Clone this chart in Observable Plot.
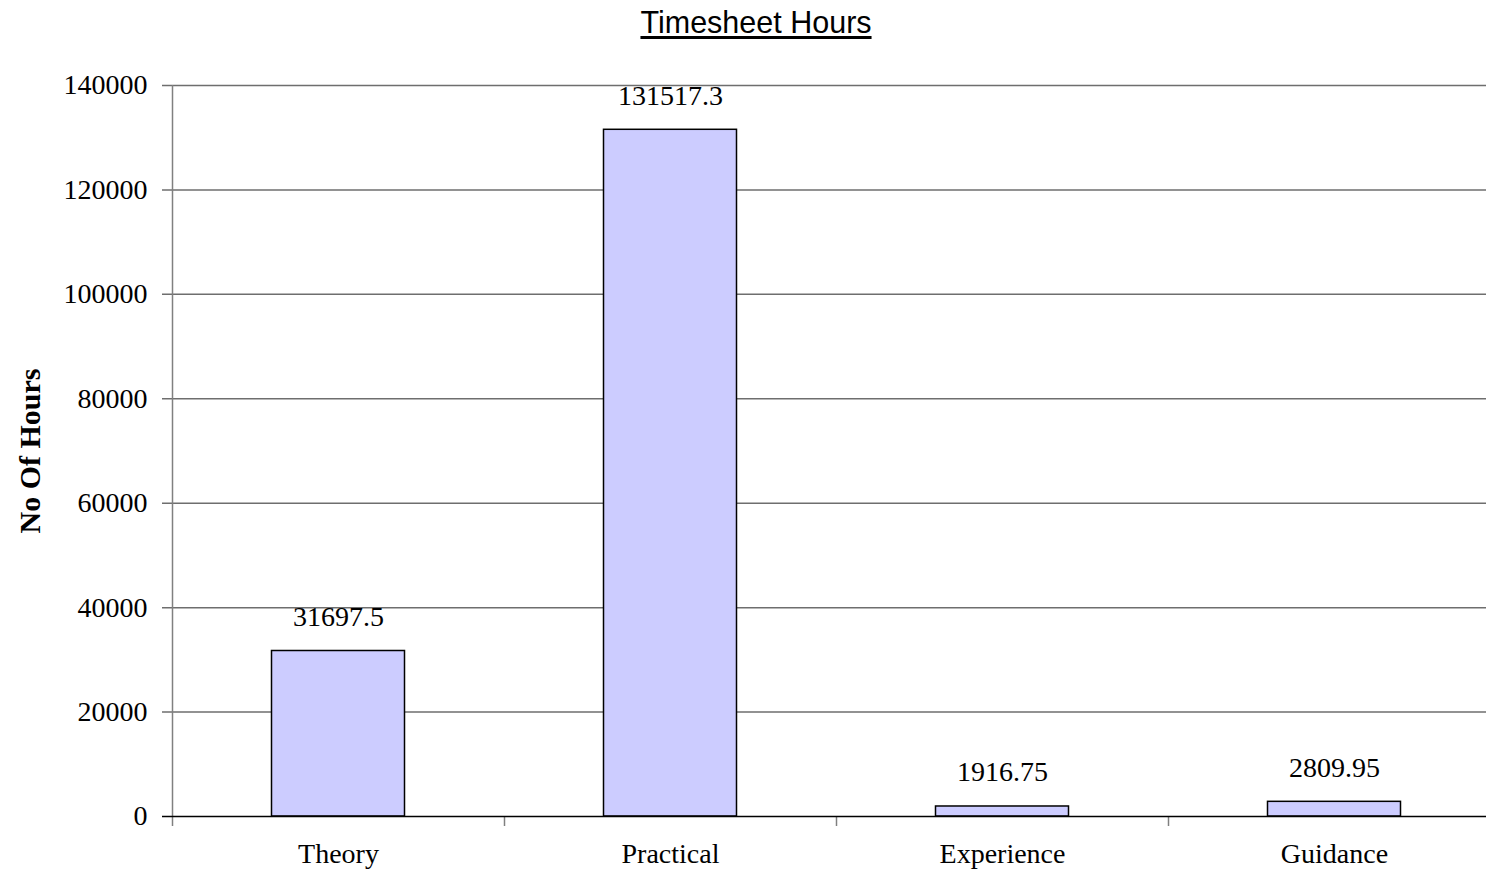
<!DOCTYPE html>
<html>
<head>
<meta charset="utf-8">
<script src="https://cdn.jsdelivr.net/npm/d3@7"></script>
<script src="https://cdn.jsdelivr.net/npm/@observablehq/plot@0.6"></script>
<style>
  html, body { margin: 0; padding: 0; background: #fff; overflow: hidden; }
  #title { height: 45px; width: 1486px; text-align: center; font-family: "Liberation Sans", Arial, sans-serif; font-size: 30.5px; line-height: 45px; color: #000; padding-left: 26px; box-sizing: border-box; }
  #title span { text-decoration: underline; text-underline-offset: 3px; }
  svg { display: block; }
</style>
</head>
<body>
<div id="title"><span>Timesheet Hours</span></div>
<div id="chart"></div>
<script>
const categories = ["Theory", "Practical", "Experience", "Guidance"];
const hours = [31697.5, 131517.3, 1916.75, 2809.95];
const yTicks = [0, 20000, 40000, 60000, 80000, 100000, 120000, 140000];
const yLabel = "No Of Hours";

const data = categories.map((c, i) => ({category: c, hours: hours[i]}));
const serif = '"Liberation Serif", "Times New Roman", serif';

const chart = Plot.plot({
  width: 1486,
  height: 824,
  marginLeft: 172,
  marginRight: 0,
  marginTop: 40,
  marginBottom: 53,
  style: {fontFamily: serif, fontSize: "28px", color: "#000", background: "#fff"},
  x: {domain: categories, range: [172, 1500], padding: 0},
  y: {domain: [0, 140000], ticks: yTicks},
  marks: [
    Plot.ruleY(yTicks.filter(d => d > 0), {stroke: "#6e6e6e", strokeWidth: 1.5, strokeOpacity: 1, insetLeft: -10}),
    Plot.ruleX([categories[0]], {dx: -166, y1: 0, y2: 140000, stroke: "#808080", strokeWidth: 1.5}),
    Plot.ruleX(categories, {dx: -166, y1: 0, y2: 0, insetBottom: -10, stroke: "#808080", strokeWidth: 1.5}),
    Plot.barY(data, {x: "category", y: "hours", fill: "#CCCCFF", stroke: "#000", strokeWidth: 1.5, insetLeft: 99.5, insetRight: 99.5}),
    Plot.ruleY([0], {stroke: "#000", strokeWidth: 1.5, insetLeft: -10}),
    Plot.text(data, {x: "category", y: "hours", text: d => String(d.hours), lineAnchor: "bottom", dy: -25, fill: "#000", fontSize: 28}),
    Plot.axisY({ticks: yTicks, tickFormat: d => String(d), tickSize: 0, tickPadding: 25, label: null, fontSize: 28}),
    Plot.axisX({tickSize: 0, tickPadding: 27, label: null, fontSize: 28}),
    Plot.text([yLabel], {frameAnchor: "left", text: d => d, textAnchor: "middle", rotate: -90, dx: -142, fontWeight: "bold", fontSize: 30, fill: "#000"})
  ]
});
document.getElementById("chart").appendChild(chart);
</script>
</body>
</html>
